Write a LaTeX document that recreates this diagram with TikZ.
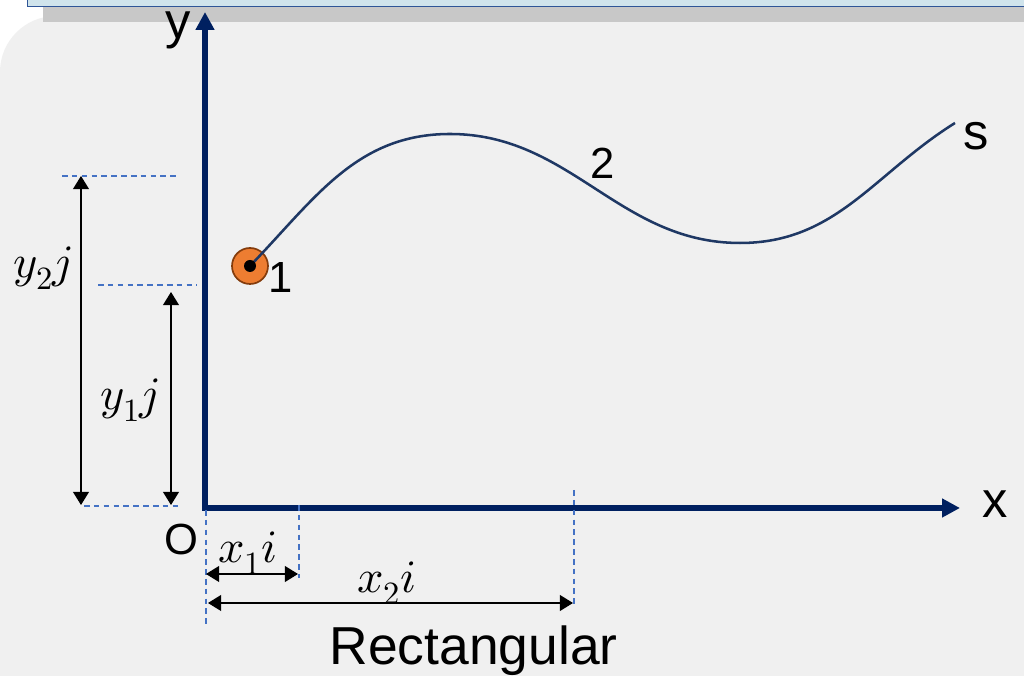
\documentclass[tikz,border=0pt]{standalone}
\usepackage{fontspec}
\usepackage{unicode-math}
\setmainfont{Liberation Sans}
\setmathfont{Latin Modern Math}
\usetikzlibrary{calc, arrows.meta}
\definecolor{axisblue}{HTML}{002060}
\definecolor{curveblue}{HTML}{1F3864}
\definecolor{guideblue}{HTML}{4472C4}
\definecolor{pointorange}{HTML}{ED7D31}
\definecolor{pointbrown}{HTML}{843C0C}
\definecolor{panelgray}{HTML}{F0F0F0}
\definecolor{shadowgray}{HTML}{C8C8C8}
\definecolor{barblue}{HTML}{D0E4EC}
\definecolor{barline}{HTML}{2F5597}

\begin{document}
\begin{tikzpicture}[
    axisline/.style={line width=3.6pt, axisblue, line join=miter,
        {Triangle[length=4.5mm,width=4.5mm]}-{Triangle[length=4.5mm,width=4.5mm]}},
    guideline/.style={guideblue, line width=1pt, dash pattern=on 4pt off 3pt},
    dimarrow/.style={line width=0.9pt,
        {Triangle[length=3.3mm,width=4mm]}-{Triangle[length=3.3mm,width=4mm]}},
    axislabel/.style={font=\fontsize{36}{40}\selectfont},
    pointlabel/.style={font=\fontsize{31}{36}\selectfont},
    mathlabel/.style={font=\fontsize{33}{38}\selectfont}
]

    % 1. Page and slide background
    \useasboundingbox (0,0) rectangle (25.6,16.9);
    \clip (0,0) rectangle (25.6,16.9);
    \fill[white] (0,0) rectangle (25.6,16.9);
    \fill[panelgray, rounded corners=1.4cm] (0,-2) rectangle (28,16.5);
    \fill[shadowgray] (1.075,16.35) rectangle (26,16.75);
    \draw[barline, fill=barblue, line width=0.7pt] (0.675,16.725) rectangle (26,17.5);

    % 2. Origin and axis tips
    \coordinate (O) at (5.125,4.2);
    \coordinate (Ytip) at (5.125,16.6);
    \coordinate (Xtip) at (24.0,4.2);
    \draw[axisline] (Ytip) -- (O) -- (Xtip);

    \node[axislabel] (ylab) at (4.45,16.15) {y};
    \node[axislabel] (xlab) at (24.875,4.3) {x};
    \node[pointlabel] (olab) at (4.525,3.4) {O};

    % 3. Dashed guides for the two positions
    \coordinate (G2a) at (1.55,12.5);   \coordinate (G2b) at (4.5,12.5);
    \coordinate (G1a) at (2.45,9.775);  \coordinate (G1b) at (4.925,9.775);
    \coordinate (G0a) at (2.1,4.25);    \coordinate (G0b) at (4.45,4.25);
    \coordinate (V0a) at (5.15,4.15);   \coordinate (V0b) at (5.15,1.275);
    \coordinate (V1a) at (7.475,4.275); \coordinate (V1b) at (7.475,2.45);
    \coordinate (V2a) at (14.35,4.65);  \coordinate (V2b) at (14.35,1.775);
    \draw[guideline] (G2a) -- (G2b);
    \draw[guideline] (G1a) -- (G1b);
    \draw[guideline] (G0a) -- (G0b);
    \draw[guideline] (V0a) -- (V0b);
    \draw[guideline] (V1a) -- (V1b);
    \draw[guideline] (V2a) -- (V2b);

    % 4. Component arrows
    \coordinate (Y2top) at (2.025,12.5);  \coordinate (Y2bot) at (2.025,4.275);
    \coordinate (Y1top) at (4.275,9.6);   \coordinate (Y1bot) at (4.275,4.275);
    \coordinate (X1l) at (5.15,2.55);     \coordinate (X1r) at (7.45,2.55);
    \coordinate (X2l) at (5.2,1.825);     \coordinate (X2r) at (14.325,1.825);
    \draw[dimarrow] (Y2top) -- (Y2bot);
    \draw[dimarrow] (Y1top) -- (Y1bot);
    \draw[dimarrow] (X1l) -- (X1r);
    \draw[dimarrow] (X2l) -- (X2r);

    \node[mathlabel] (y2lab) at (1.075,10.2) {$y_2 j$};
    \node[mathlabel] (y1lab) at (3.25,6.9) {$y_1 j$};
    \node[mathlabel] (x1lab) at (6.2,3.075) {$x_1 i$};
    \node[mathlabel] (x2lab) at (9.675,2.325) {$x_2 i$};

    % 5. Path s with point 1
    \node[circle, fill=pointorange, draw=pointbrown, line width=1.2pt,
          minimum size=0.9cm, inner sep=0pt] (P1) at (6.25,10.25) {};
    \coordinate (Peak) at (11.25,13.55);
    \coordinate (Trough) at (18.5,10.825);
    \coordinate (Send) at (23.875,13.825);
    \draw[curveblue, line width=1.8pt] (P1.center) to[out=46,in=180] (Peak)
        to[out=0,in=180] (Trough) to[out=0,in=212] (Send);
    \fill (P1.center) circle (0.15);

    \node[pointlabel] (onelab) at (7.025,9.95) {1};
    \node[pointlabel] (twolab) at (15.075,12.825) {2};
    \node[axislabel] (slab) at (24.4,13.5) {s};

    % 6. Caption
    \node[font=\fontsize{38}{44}\selectfont, anchor=base] (caption) at (11.84,0.275) {Rectangular};
\end{tikzpicture}
\end{document}
